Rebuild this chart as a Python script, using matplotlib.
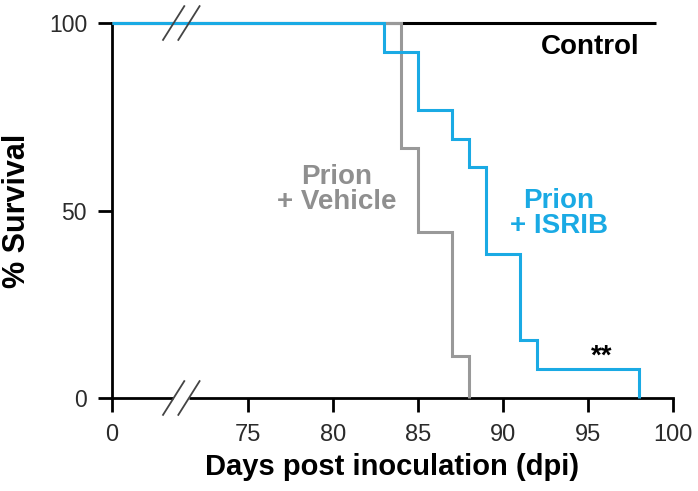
import matplotlib
matplotlib.use("Agg")
import matplotlib.pyplot as plt
import numpy as np
from matplotlib.transforms import blended_transform_factory

plt.rcParams['font.family'] = ['Liberation Sans', 'DejaVu Sans']

# survival data (Kaplan-Meier steps)
control_days = [0, 99]
control_surv = [100, 100]
vehicle_days = [0, 84, 85, 87, 88]
vehicle_surv = [100, 66.7, 44.4, 11.1, 0]
isrib_days = [0, 83, 85, 87, 88, 89, 91, 92, 98]
isrib_surv = [100, 92.3, 76.9, 69.2, 61.5, 38.5, 15.4, 7.7, 0]

x_ticks = [0, 75, 80, 85, 90, 95, 100]
y_ticks = [0, 50, 100]

BLUE = '#1aaae4'
GRAY = '#999999'
TICK_COLOR = '#2b2b2b'

# broken x axis: squeeze 0..70 into a short stretch
BREAK = 70.0
SQUEEZE = 3.0 / 70.0


def fwd(x):
    x = np.asarray(x, dtype=float)
    return np.where(x < BREAK, BREAK - (BREAK - x) * SQUEEZE, x)


def inv(p):
    p = np.asarray(p, dtype=float)
    return np.where(p < BREAK, BREAK - (BREAK - p) / SQUEEZE, p)


fig = plt.figure(figsize=(6.98, 4.91), dpi=100)
ax = fig.add_axes([0.1605, 0.1894, 0.8037, 0.7637])
ax.set_xscale('function', functions=(fwd, inv))

ax.step(control_days, control_surv, where='post', color='black', lw=2.2,
        clip_on=False, zorder=3, solid_capstyle='butt')
ax.step(vehicle_days, vehicle_surv, where='post', color=GRAY, lw=2.2,
        clip_on=False, zorder=4, solid_joinstyle='miter', solid_capstyle='butt')
ax.step(isrib_days, isrib_surv, where='post', color=BLUE, lw=2.2,
        clip_on=False, zorder=5, solid_joinstyle='miter', solid_capstyle='butt')

ax.set_xlim(0, 100)
ax.set_ylim(0, 100)
ax.set_xticks(x_ticks)
ax.set_yticks(y_ticks)
ax.tick_params(axis='both', direction='out', length=10, width=2, color='black',
               labelcolor=TICK_COLOR)
ax.tick_params(axis='x', labelsize=17, pad=9)
ax.tick_params(axis='y', labelsize=16.5, pad=8)
for s in ['top', 'right']:
    ax.spines[s].set_visible(False)
for s in ['left', 'bottom']:
    ax.spines[s].set_linewidth(2)

ax.set_xlabel('Days post inoculation (dpi)', fontsize=21, fontweight='bold',
              labelpad=5)
ax.set_ylabel('% Survival', fontsize=22, fontweight='bold', labelpad=12)

# break marks: gap in the x axis, slashes at bottom and top
trans = blended_transform_factory(ax.transData, ax.transAxes)
ax.plot([70.6, 71.5], [0, 0], color='white', lw=3.5, transform=trans,
        clip_on=False, zorder=6, solid_capstyle='butt')
for yc in [0.0, 1.0]:
    for x0 in [70.0, 70.9]:
        ax.plot([x0, x0 + 1.25], [yc - 0.045, yc + 0.045], color='#444444',
                lw=1.3, transform=trans, clip_on=False, zorder=7)

ax.text(95.1, 93.5, 'Control', fontsize=20, fontweight='bold', color='black',
        ha='center', va='center')
ax.text(80.2, 55.5, 'Prion\n+ Vehicle', fontsize=20, fontweight='bold',
        color='#8f8f8f', ha='center', va='center', linespacing=0.95)
ax.text(93.3, 49.3, 'Prion\n+ ISRIB', fontsize=20, fontweight='bold',
        color=BLUE, ha='center', va='center', linespacing=0.95)
ax.text(95.8, 11.0, '**', fontsize=20, fontweight='bold', color='black',
        ha='center', va='center')

fig.savefig('out.png', dpi=100)
